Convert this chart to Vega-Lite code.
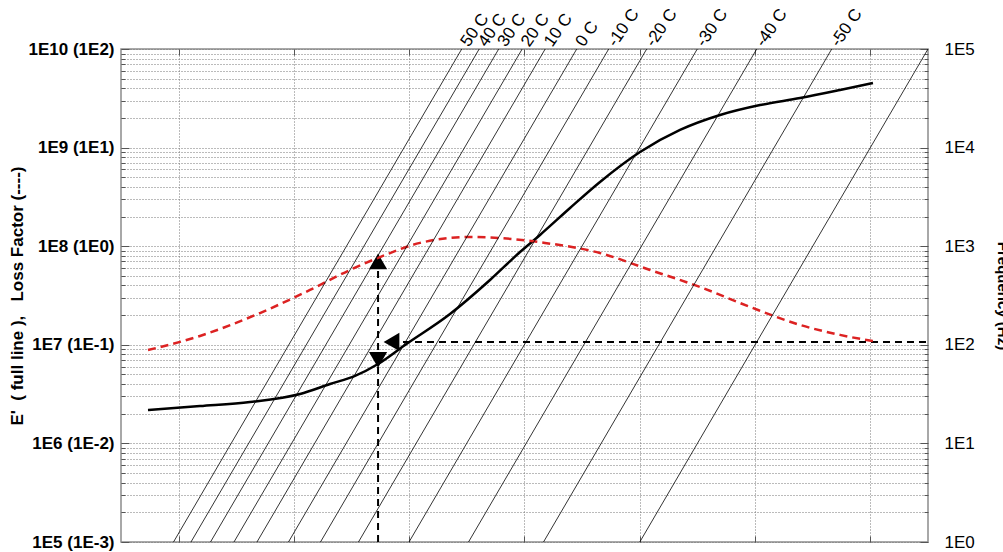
{
  "$schema": "https://vega.github.io/schema/vega-lite/v6.json",
  "width": 807,
  "height": 493,
  "autosize": {"type": "none"},
  "padding": {"left": 121, "top": 49, "right": 75, "bottom": 10},
  "background": "white",
  "config": {
    "font": "Liberation Sans",
    "view": {"stroke": "#8c8c8c", "strokeWidth": 1.5},
    "axis": {"labelColor": "#000", "titleColor": "#000", "labelFont": "Liberation Sans", "titleFont": "Liberation Sans"}
  },
  "datasets": {
    "storage": [
      {"fr": 2.94e-4, "E": 2.18e6}, {"fr": 2.35e-3, "E": 2.39e6}, {"fr": 0.0173, "E": 2.63e6},
      {"fr": 0.1277, "E": 3.17e6}, {"fr": 0.4227, "E": 4.0e6}, {"fr": 1.148, "E": 4.83e6},
      {"fr": 2.877, "E": 6.38e6}, {"fr": 8.45, "E": 9.95e6}, {"fr": 51.0, "E": 2.05e7},
      {"fr": 252, "E": 4.54e7}, {"fr": 836, "E": 8.73e7}, {"fr": 1858, "E": 1.3e8},
      {"fr": 6166, "E": 2.44e8}, {"fr": 20400, "E": 4.48e8}, {"fr": 100900, "E": 9.02e8},
      {"fr": 499000, "E": 1.51e9}, {"fr": 2.47e6, "E": 2.14e9}, {"fr": 1.22e7, "E": 2.7e9},
      {"fr": 6.03e7, "E": 3.18e9}, {"fr": 2.98e8, "E": 3.84e9}, {"fr": 1.11e9, "E": 4.52e9}
    ],
    "loss": [
      {"fr": 2.94e-4, "eta": 0.0885}, {"fr": 2.35e-3, "eta": 0.123}, {"fr": 0.0258, "eta": 0.21},
      {"fr": 0.19, "eta": 0.36}, {"fr": 0.94, "eta": 0.574}, {"fr": 3.11, "eta": 0.776},
      {"fr": 15.4, "eta": 1.08}, {"fr": 113.5, "eta": 1.24}, {"fr": 375.8, "eta": 1.21},
      {"fr": 2270, "eta": 1.08}, {"fr": 20400, "eta": 0.853}, {"fr": 150700, "eta": 0.574},
      {"fr": 1.109e6, "eta": 0.386}, {"fr": 8.18e6, "eta": 0.242}, {"fr": 6.03e7, "eta": 0.159},
      {"fr": 2.98e8, "eta": 0.126}, {"fr": 1.11e9, "eta": 0.109}
    ],
    "iso": [
      {"T": "50 C", "fr": 8.15e-4, "f": 1}, {"T": "50 C", "fr": 81.5, "f": 100000},
      {"T": "40 C", "fr": 1.637e-3, "f": 1}, {"T": "40 C", "fr": 163.7, "f": 100000},
      {"T": "30 C", "fr": 3.57e-3, "f": 1}, {"T": "30 C", "fr": 357, "f": 100000},
      {"T": "20 C", "fr": 9.12e-3, "f": 1}, {"T": "20 C", "fr": 912, "f": 100000},
      {"T": "10 C", "fr": 0.02286, "f": 1}, {"T": "10 C", "fr": 2286, "f": 100000},
      {"T": "0 C", "fr": 0.0805, "f": 1}, {"T": "0 C", "fr": 8054, "f": 100000},
      {"T": "-10 C", "fr": 0.289, "f": 1}, {"T": "-10 C", "fr": 28900, "f": 100000},
      {"T": "-20 C", "fr": 1.318, "f": 1}, {"T": "-20 C", "fr": 131800, "f": 100000},
      {"T": "-30 C", "fr": 9.93, "f": 1}, {"T": "-30 C", "fr": 993000, "f": 100000},
      {"T": "-40 C", "fr": 106.9, "f": 1}, {"T": "-40 C", "fr": 1.069e7, "f": 100000},
      {"T": "-50 C", "fr": 2138, "f": 1}, {"T": "-50 C", "fr": 2.138e8, "f": 100000},
      {"T": "-60 C", "fr": 100000, "f": 1}, {"T": "-60 C", "fr": 1e10, "f": 100000}
    ],
    "isolabels": [
      {"T": "50 C", "fr": 81.5, "f": 100000}, {"T": "40 C", "fr": 163.7, "f": 100000},
      {"T": "30 C", "fr": 357, "f": 100000}, {"T": "20 C", "fr": 912, "f": 100000},
      {"T": "10 C", "fr": 2286, "f": 100000}, {"T": "0 C", "fr": 8054, "f": 100000},
      {"T": "-10 C", "fr": 28900, "f": 100000}, {"T": "-20 C", "fr": 131800, "f": 100000},
      {"T": "-30 C", "fr": 993000, "f": 100000}, {"T": "-40 C", "fr": 1.069e7, "f": 100000},
      {"T": "-50 C", "fr": 2.138e8, "f": 100000}
    ],
    "guideV": [{"fr": 2.88, "E": 100000, "E2": 6.0e7}],
    "guideH": [{"fr": 7.8, "fr2": 1e10, "E": 1.07e7}],
    "arrows": [
      {"dir": "up", "fr": 2.88, "E": 7.0e7},
      {"dir": "down", "fr": 2.88, "E": 7.02e6},
      {"dir": "left", "fr": 4.93, "E": 1.07e7}
    ]
  },
  "layer": [
    {
      "layer": [
        {
          "data": {"name": "storage"},
          "mark": {"type": "line", "color": "#000", "strokeWidth": 2.5, "interpolate": "monotone"},
          "encoding": {
            "x": {"field": "fr", "type": "quantitative", "scale": {"type": "log", "domain": [0.0001, 10000000000]},
              "axis": {"orient": "bottom", "values": [0.001, 0.1, 10, 1000, 100000, 10000000, 1000000000], "labels": false, "title": null,
                "grid": true, "gridDash": [1, 2], "gridColor": "#777", "domain": false, "tickSize": -6, "tickColor": "#555"}},
            "y": {"field": "E", "type": "quantitative", "scale": {"type": "log", "domain": [100000, 10000000000]},
              "axis": {
                "orient": "left",
                "values": [100000, 200000, 300000, 400000, 500000, 600000, 700000, 800000, 900000,
                  1000000, 2000000, 3000000, 4000000, 5000000, 6000000, 7000000, 8000000, 9000000,
                  10000000, 20000000, 30000000, 40000000, 50000000, 60000000, 70000000, 80000000, 90000000,
                  100000000, 200000000, 300000000, 400000000, 500000000, 600000000, 700000000, 800000000, 900000000,
                  1000000000, 2000000000, 3000000000, 4000000000, 5000000000, 6000000000, 7000000000, 8000000000, 9000000000,
                  10000000000],
                "labelExpr": "abs(log(datum.value)/LN10 - round(log(datum.value)/LN10)) < 0.01 ? '1E' + round(log(datum.value)/LN10) + ' (1E' + (round(log(datum.value)/LN10) - 8) + ')' : ''",
                "grid": true, "gridDash": [1, 2], "gridColor": "#777",
                "domain": false,
                "tickSize": {"condition": {"test": "abs(log(datum.value)/LN10 - round(log(datum.value)/LN10)) < 0.01", "value": -8}, "value": -4},
                "tickColor": "#555",
                "labelFontSize": 17, "labelFontWeight": "bold", "labelPadding": 15,
                "title": "E'\u00a0\u00a0( full line ),\u00a0\u00a0\u00a0Loss Factor (----)",
                "titleFontSize": 17, "titleFontWeight": "bold", "titlePadding": 2
              }}
          }
        },
        {
          "data": {"name": "guideV"},
          "mark": {"type": "rule", "color": "#000", "strokeWidth": 2, "strokeDash": [7, 5]},
          "encoding": {
            "x": {"field": "fr", "type": "quantitative"},
            "y": {"field": "E", "type": "quantitative"},
            "y2": {"field": "E2"}
          }
        },
        {
          "data": {"name": "guideH"},
          "mark": {"type": "rule", "color": "#000", "strokeWidth": 2, "strokeDash": [7, 5]},
          "encoding": {
            "x": {"field": "fr", "type": "quantitative"},
            "x2": {"field": "fr2"},
            "y": {"field": "E", "type": "quantitative"}
          }
        },
        {
          "data": {"name": "arrows"},
          "mark": {"type": "point", "filled": true, "color": "#000", "opacity": 1, "size": 330},
          "encoding": {
            "x": {"field": "fr", "type": "quantitative"},
            "y": {"field": "E", "type": "quantitative"},
            "shape": {"field": "dir", "type": "nominal", "scale": {"domain": ["up", "down", "left"], "range": ["triangle-up", "triangle-down", "triangle-left"]}, "legend": null}
          }
        }
      ]
    },
    {
      "data": {"name": "loss"},
      "mark": {"type": "line", "color": "#dc2222", "strokeWidth": 2.5, "strokeDash": [8, 5], "interpolate": "monotone"},
      "encoding": {
        "x": {"field": "fr", "type": "quantitative", "scale": {"type": "log", "domain": [0.0001, 10000000000]}, "axis": null},
        "y": {"field": "eta", "type": "quantitative", "scale": {"type": "log", "domain": [0.001, 100]}, "axis": null}
      }
    },
    {
      "layer": [
        {
          "data": {"name": "iso"},
          "mark": {"type": "line", "color": "#000", "strokeWidth": 0.8, "clip": true},
          "encoding": {
            "x": {"field": "fr", "type": "quantitative", "scale": {"type": "log", "domain": [0.0001, 10000000000]},
              "axis": {"orient": "top", "values": [0.001, 0.1, 10, 1000, 100000, 10000000, 1000000000], "labels": false, "title": null, "grid": false, "domain": false, "tickSize": -6, "tickColor": "#555"}},
            "y": {"field": "f", "type": "quantitative", "scale": {"type": "log", "domain": [1, 100000]},
              "axis": {
                "orient": "right",
                "values": [1, 2, 3, 4, 5, 6, 7, 8, 9, 10, 20, 30, 40, 50, 60, 70, 80, 90, 100, 200, 300, 400, 500, 600, 700, 800, 900,
                  1000, 2000, 3000, 4000, 5000, 6000, 7000, 8000, 9000, 10000, 20000, 30000, 40000, 50000, 60000, 70000, 80000, 90000, 100000],
                "labelExpr": "abs(log(datum.value)/LN10 - round(log(datum.value)/LN10)) < 0.01 ? '1E' + round(log(datum.value)/LN10) : ''",
                "grid": false, "domain": false,
                "tickSize": {"condition": {"test": "abs(log(datum.value)/LN10 - round(log(datum.value)/LN10)) < 0.01", "value": -8}, "value": -4},
                "tickColor": "#555",
                "labelFontSize": 17, "labelPadding": 24,
                "title": "Frequency (Hz)", "titleFontSize": 15, "titleFontWeight": "bold", "titlePadding": 20
              }},
            "detail": {"field": "T"}
          }
        },
        {
          "data": {"name": "isolabels"},
          "mark": {"type": "text", "angle": -55, "align": "left", "baseline": "middle", "dx": 5, "fontSize": 17, "color": "#000"},
          "encoding": {
            "x": {"field": "fr", "type": "quantitative"},
            "y": {"field": "f", "type": "quantitative"},
            "text": {"field": "T"}
          }
        }
      ]
    }
  ],
  "resolve": {"scale": {"y": "independent"}, "axis": {"x": "independent"}}
}
